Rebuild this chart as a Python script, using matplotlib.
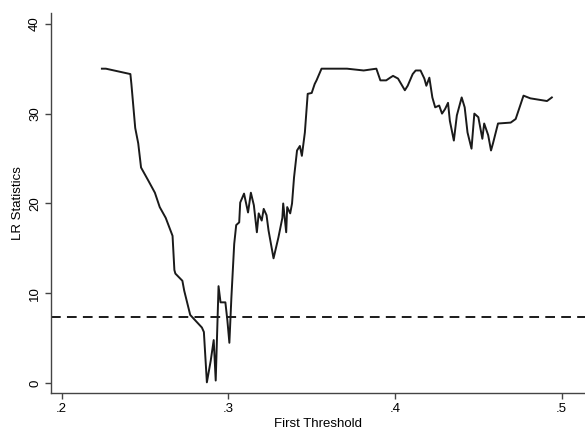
import matplotlib
matplotlib.use("Agg")
import matplotlib.pyplot as plt

# first threshold grid and LR statistic
threshold = [
    0.2241, 0.2265, 0.2412, 0.2418, 0.2441, 0.2459, 0.2476, 0.2518, 0.2559, 0.2588,
    0.2606, 0.2624, 0.2665, 0.2676, 0.2682, 0.2724, 0.2735, 0.2771, 0.2841, 0.2853,
    0.2871, 0.2894, 0.2912, 0.2924, 0.2941, 0.2953, 0.2982, 0.2994, 0.3006, 0.3018,
    0.3035, 0.3047, 0.3065, 0.3071, 0.3094, 0.3118, 0.3135, 0.3153, 0.3171, 0.3182,
    0.3200, 0.3212, 0.3229, 0.3241, 0.3271, 0.3300, 0.3324, 0.3329, 0.3347, 0.3353,
    0.3371, 0.3382, 0.3394, 0.3412, 0.3429, 0.3441, 0.3459, 0.3476, 0.3500, 0.3518,
    0.3529, 0.3559, 0.3712, 0.3812, 0.3888, 0.3912, 0.3947, 0.3971, 0.3988, 0.4018,
    0.4059, 0.4076, 0.4106, 0.4124, 0.4153, 0.4176, 0.4188, 0.4206, 0.4224, 0.4241,
    0.4265, 0.4282, 0.4300, 0.4318, 0.4329, 0.4353, 0.4371, 0.4400, 0.4418, 0.4435,
    0.4459, 0.4476, 0.4500, 0.4524, 0.4535, 0.4559, 0.4576, 0.4588, 0.4618, 0.4694,
    0.4724, 0.4771, 0.4812, 0.4912, 0.4941,
]
lr_stat = [
    35.0, 35.0, 34.4, 33.3, 28.4, 26.7, 24.0, 22.6, 21.2, 19.6,
    19.0, 18.4, 16.4, 12.6, 12.2, 11.4, 10.3, 7.6, 6.2, 5.7,
    0.1, 2.5, 4.8, 0.3, 10.8, 9.0, 9.0, 7.0, 4.5, 9.5,
    15.5, 17.6, 17.9, 20.1, 21.1, 19.0, 21.2, 19.8, 16.8, 18.9,
    18.1, 19.4, 18.7, 17.0, 13.9, 16.2, 18.4, 20.0, 16.8, 19.6,
    18.9, 20.0, 22.9, 25.9, 26.4, 25.3, 27.9, 32.2, 32.3, 33.3,
    33.7, 35.0, 35.0, 34.8, 35.0, 33.7, 33.7, 34.0, 34.2, 33.9,
    32.6, 33.1, 34.4, 34.8, 34.8, 33.9, 33.1, 34.0, 31.8, 30.7,
    30.9, 30.0, 30.5, 31.2, 29.2, 27.0, 29.8, 31.8, 30.7, 27.9,
    26.1, 30.0, 29.6, 27.2, 28.9, 27.6, 25.9, 26.7, 28.9, 29.0,
    29.4, 32.0, 31.7, 31.4, 31.8,
]
critical_value = 7.35

x_ticks = [0.2, 0.3, 0.4, 0.5]
x_tick_labels = [".2", ".3", ".4", ".5"]
y_ticks = [0, 10, 20, 30, 40]

plt.rcParams["font.family"] = ["Liberation Sans", "DejaVu Sans"]

fig = plt.figure(figsize=(5.85, 4.32), dpi=100)
ax = fig.add_axes([0.087, 0.090, 0.913, 0.880])

ax.plot(threshold, lr_stat, color="#1a1a1a", linewidth=1.4)
ax.axhline(critical_value, color="#1a1a1a", linewidth=1.4, linestyle=(0, (5, 3.2)))

ax.set_xlim(0.1935, 0.514)
ax.set_ylim(-1.1, 41.2)
ax.set_xticks(x_ticks)
ax.set_xticklabels(x_tick_labels)
ax.set_yticks(y_ticks)
ax.set_yticklabels([str(v) for v in y_ticks], rotation=90, va="center")

for side in ["top", "right"]:
    ax.spines[side].set_visible(False)
for side in ["left", "bottom"]:
    ax.spines[side].set_color("#444444")
    ax.spines[side].set_linewidth(1.0)
ax.tick_params(direction="out", length=4, width=1.0, color="#444444",
               labelsize=9.5, pad=3)

ax.set_xlabel("First Threshold", fontsize=9.5, labelpad=2)
ax.set_ylabel("LR Statistics", fontsize=9.5, labelpad=4)

fig.savefig("out.png", dpi=100)
